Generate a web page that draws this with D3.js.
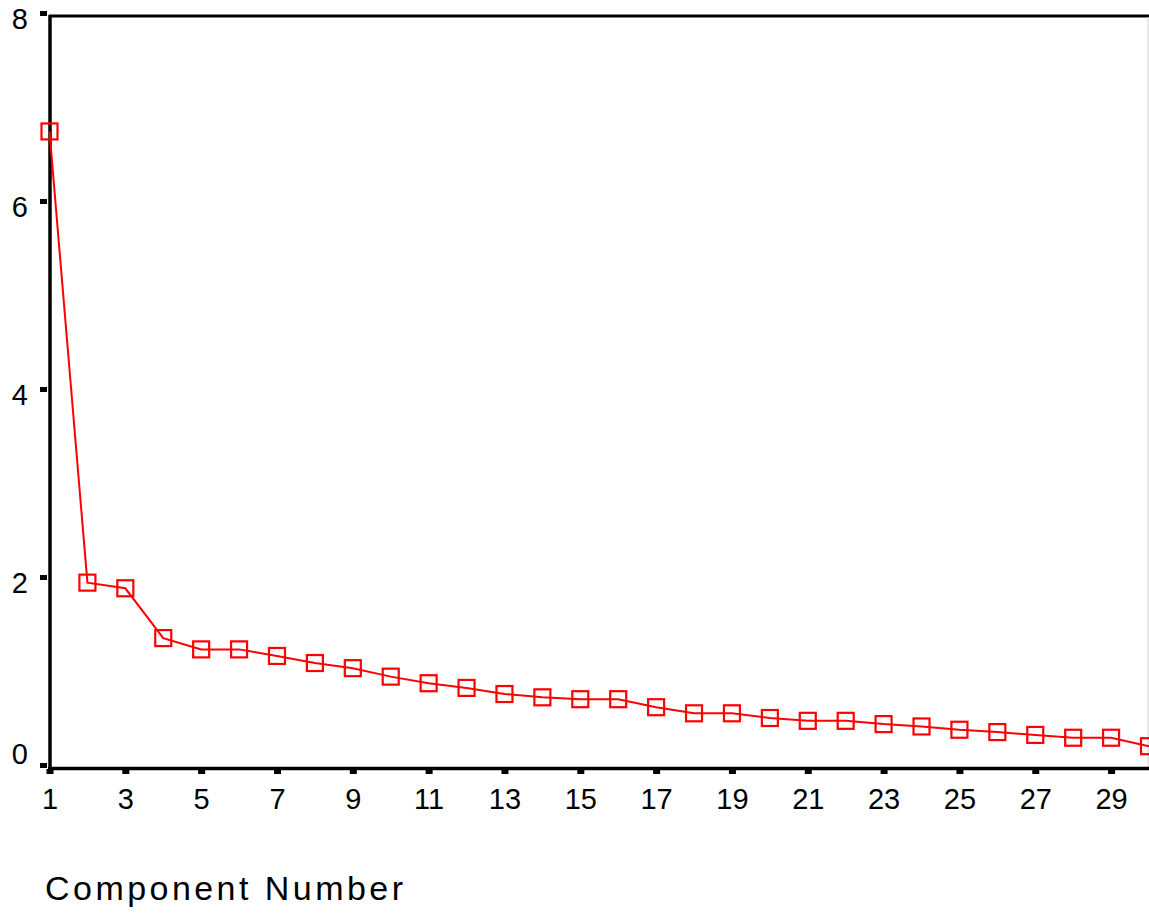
<!DOCTYPE html>
<html>
<head>
<meta charset="utf-8">
<script src="https://cdn.jsdelivr.net/npm/d3@7"></script>
<style>
  html, body { margin: 0; padding: 0; background: #fff; }
  svg { display: block; }
  text { font-family: "Liberation Sans", Arial, sans-serif; fill: #000; }
</style>
</head>
<body>
<svg id="chart" width="1149" height="913"></svg>
<script>
const components = d3.range(1, 31);
const eigenvalues = [6.74, 1.94, 1.88, 1.35, 1.23, 1.23, 1.16, 1.085, 1.03, 0.94,
                     0.87, 0.82, 0.755, 0.72, 0.70, 0.70, 0.615, 0.55, 0.55, 0.50,
                     0.47, 0.47, 0.435, 0.41, 0.375, 0.35, 0.32, 0.29, 0.29, 0.20];
const xTickValues = [1, 3, 5, 7, 9, 11, 13, 15, 17, 19, 21, 23, 25, 27, 29];
const yTickValues = [0, 2, 4, 6, 8];
const xTitle = "Component Number";

const svg = d3.select("#chart");
const x = d3.scaleLinear().domain([1, 30]).range([49.5, 1149]);
const y = d3.scaleLinear().domain([0, 8]).range([765, 13]);

// frame: top line and light right border
svg.append("line").attr("x1", 49).attr("x2", 1149).attr("y1", 16).attr("y2", 16)
  .attr("stroke", "#000").attr("stroke-width", 3);
svg.append("line").attr("x1", 1148).attr("x2", 1148).attr("y1", 17).attr("y2", 767)
  .attr("stroke", "#d0d0d0").attr("stroke-width", 1);

// left axis
const yAxis = svg.append("g").attr("transform", "translate(50,0)")
  .call(d3.axisLeft(y).tickValues(yTickValues).tickFormat(d3.format("d")).tickSize(0).tickPadding(22));
yAxis.select(".domain").remove();
yAxis.selectAll(".tick line").attr("x1", -3).attr("x2", -10).attr("stroke", "#000").attr("stroke-width", 5);
yAxis.selectAll(".tick text").attr("font-size", 29).attr("dy", d => d === 0 ? "-0.05em" : "0.55em")
  .style("font-family", "Liberation Sans, Arial, sans-serif");
svg.append("line").attr("x1", 50).attr("x2", 50).attr("y1", 15).attr("y2", 770)
  .attr("stroke", "#000").attr("stroke-width", 3.5);

// bottom axis
const xAxis = svg.append("g").attr("transform", "translate(0,768)")
  .call(d3.axisBottom(x).tickValues(xTickValues).tickFormat(d3.format("d")).tickSize(0).tickPadding(20));
xAxis.select(".domain").remove();
xAxis.selectAll(".tick line").attr("y1", 1).attr("y2", 6).attr("stroke", "#000").attr("stroke-width", 7);
xAxis.selectAll(".tick text").attr("font-size", 29).attr("dy", "0.71em")
  .style("font-family", "Liberation Sans, Arial, sans-serif");
svg.append("line").attr("x1", 48).attr("x2", 1149).attr("y1", 768.5).attr("y2", 768.5)
  .attr("stroke", "#000").attr("stroke-width", 3.5);

// axis title
svg.append("text").attr("x", 45).attr("y", 900).attr("font-size", 34)
  .attr("textLength", 358).attr("lengthAdjust", "spacing").text(xTitle);

// line
const line = d3.line().x((d, i) => x(components[i])).y(d => y(d));
svg.append("path").datum(eigenvalues).attr("d", line)
  .attr("fill", "none").attr("stroke", "#ff0000").attr("stroke-width", 2);

// markers
const s = 16;
svg.selectAll("rect.pt").data(eigenvalues).enter().append("rect")
  .attr("class", "pt")
  .attr("x", (d, i) => x(components[i]) - s / 2)
  .attr("y", d => y(d) - s / 2)
  .attr("width", s).attr("height", s)
  .attr("fill", "none").attr("stroke", "#ff0000").attr("stroke-width", 2.2);
</script>
</body>
</html>
